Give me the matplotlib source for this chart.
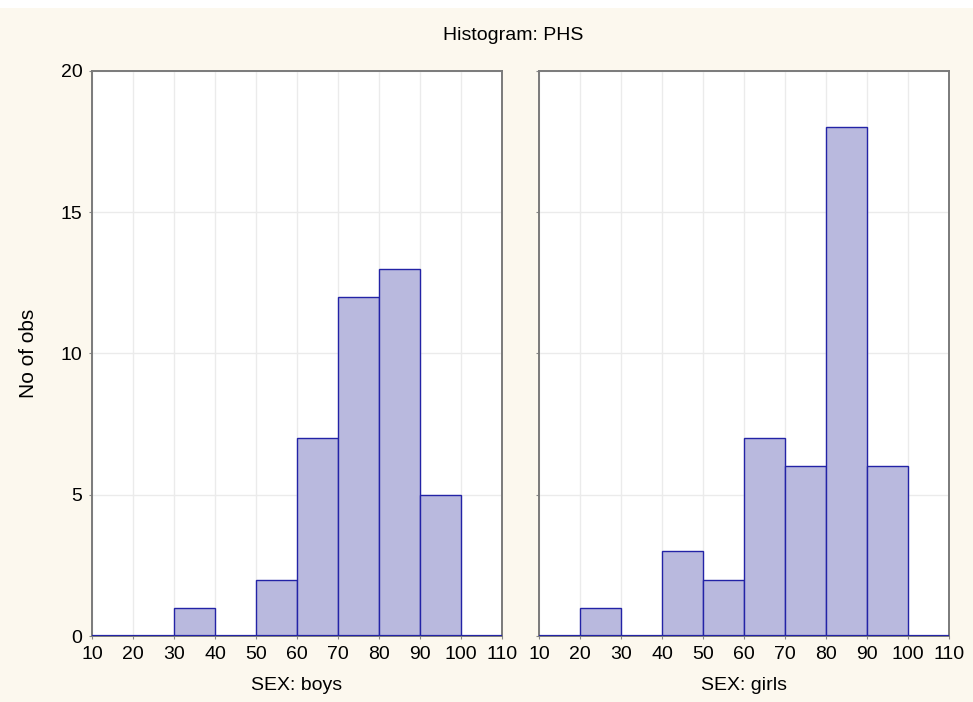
import matplotlib.pyplot as plt
import numpy as np
from matplotlib.patches import Rectangle

plt.rcParams["font.family"] = ["Liberation Sans", "DejaVu Sans"]

# Histogram bins (lower edges, width 10)
bin_edges = [10, 20, 30, 40, 50, 60, 70, 80, 90, 100, 110]
boys_counts = [0, 0, 1, 0, 2, 7, 12, 13, 5, 0]
girls_counts = [0, 1, 0, 3, 2, 7, 6, 18, 6, 0]
panel_labels = ["SEX: boys", "SEX: girls"]
x_ticks = [10, 20, 30, 40, 50, 60, 70, 80, 90, 100, 110]
y_ticks = [0, 5, 10, 15, 20]

bg = "#fcf8ee"
fill = "#b9b9de"
edge = "#2323a6"

fig = plt.figure(figsize=(9.73, 7.02), dpi=100, facecolor=bg)
fig.patches.append(Rectangle((0, 0.988), 1, 0.012, transform=fig.transFigure,
                             facecolor="white", edgecolor="none", zorder=-1))

ax_l = fig.add_axes([0.0946, 0.094, 0.4214, 0.805])
ax_r = fig.add_axes([0.554, 0.094, 0.4214, 0.805])

lefts = np.array(bin_edges[:-1])
for ax, counts, label in zip([ax_l, ax_r], [boys_counts, girls_counts], panel_labels):
    ax.set_facecolor("white")
    ax.bar(lefts, counts, width=10, align="edge", color=fill, edgecolor=edge,
           linewidth=1.0, zorder=3)
    ax.axhline(0, color=edge, linewidth=1.6, zorder=4)
    ax.set_xlim(10, 110)
    ax.set_ylim(0, 20)
    ax.set_xticks(x_ticks)
    ax.set_yticks(y_ticks)
    ax.grid(True, color="#ebebeb", linewidth=1.0, zorder=0)
    ax.tick_params(axis="both", length=2, color="#888888", labelsize=14, pad=5)
    for s in ax.spines.values():
        s.set_color("#7a7a7a")
        s.set_linewidth(1.4)
    ax.set_xlabel(label, fontsize=14, labelpad=10)

ax_r.tick_params(axis="y", labelleft=False)
ax_l.set_ylabel("No of obs", fontsize=15, labelpad=16)

fig.text(0.527, 0.95, "Histogram: PHS", ha="center", va="center", fontsize=14)

fig.savefig("out.png", dpi=100, facecolor=bg)
